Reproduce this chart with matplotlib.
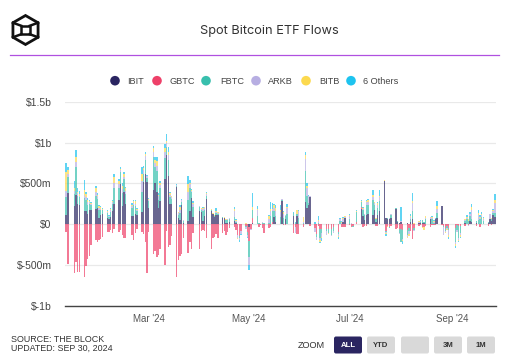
import numpy as np
import pandas as pd
import matplotlib
matplotlib.use("Agg")
import matplotlib.pyplot as plt
import matplotlib.dates as mdates
from matplotlib.patches import FancyBboxPatch, Circle, Polygon

# ---------------- data ($m, daily net flows) ----------------
holidays = ["2024-01-15", "2024-02-19", "2024-03-29", "2024-05-27",
            "2024-06-19", "2024-07-04", "2024-09-02"]
dates = [d for d in pd.bdate_range("2024-01-11", "2024-09-27")
         if d.strftime("%Y-%m-%d") not in holidays]

series_names = ["IBIT", "GBTC", "FBTC", "ARKB", "BITB", "6 Others"]

IBIT = [112, 386, 220, 360, 250, 240, 160, 160, 120, 170, 170, 190, 200, 80,
        110, 120, 80, 60, 90, 160, 250, 300, 490, 220, 400, 250, 100, 100, 130, 110, 150, 520, 612, 520,
        200, 420, 500, 400, 200, 290, 560, 849, 586, 250, 250, 451, 75, 49, 233, 18, 35, 161, 323, 95,
        165, 150, 42, 100, 308, 165, 129, 90, 110, 110, 73, 75, 19, 18, 30, 35, 20, 0, 0, 0, 0, 0,
        -37, 0, 12, 0, 0, 0, 0, 0, 0, 0, 0, 94, 30, 0, 290, 0, 70, 0, 102, 0, 100, 0,
        0, 275, 200, 230, 330, 6, 0, 0, 0, 0, 0, 0, 0, 0, 0, 0, 0, 30, 82,
        0, 0, 0, 0, 187, 100, 50, 110, 120, 117, 180, 30, 116, 160, 526, 73, 70, 70, 80, 190, 30, 20,
        26, 0, 20, 0, 25, 60, 0, 10, 20, 20, 10, 0, 60, 0, 0, 70, 75, 224, 0, 0, 0, 0,
        0, 0, 0, 0, 16, 0, 0, 40, 30, 15, 0, 0, 0, 0, 10, 60, 40, 110, 90]

GBTC = [-95, -484, -594, -459, -590, -582, -640, -515, -429, -394, -255, -192, -220, -187,
        -182, -160, -100, -94, -73, -102, -52, -95, -73, -130, -174, -170, -130, -190, -110, -55, -100, -125, -216, -599,
        -90, -368, -332, -400, -375, -300, -494, -79, -276, -257, -139, -642, -443, -386, -358, -170, -350, -212, -299, -105,
        -302, -81, -75, -80, -170, -303, -170, -160, -125, -166, -110, -79, -133, -90, -45, -35, -66, -130, -139, -83, -25, -94,
        -167, -54, 63, 4, -28, -11, -44, -104, -50, -30, 27, 0, 0, 0, 0, -10, -10, 0, -105, -30, -125, -124,
        -30, 0, 0, 0, -20, -40, -121, -15, -62, -53, -62, -62, -53, -35, -90, 0, -30, -28, -28,
        -10, -32, -27, 28, 25, -37, -20, -20, 0, 0, 0, -20, -20, 0, 0, -80, -20, -30, -20, -60, -50, -60,
        -60, -70, -69, -50, -80, -180, -50, -20, -10, -30, -30, -20, -30, -10, -10, -10, 0, -10, -20, -50, -20, -40,
        -50, -10, -23, -22, -20, 0, -10, 0, 0, -20, 0, -30, 0, 0, -15, 0, -10, 0, 0]

FBTC = [227, 195, 150, 345, 100, 90, 160, 140, 120, 80, 70, 150, 110, 100,
        60, 50, 60, 30, 60, 90, 200, 150, 150, 160, 150, 120, 100, 130, 90, 50, 245, 100, 180, 50,
        80, 400, 200, 250, 100, 150, 250, 100, 200, 80, 60, 20, 40, 90, 40, 20, 260, 280, 70, 120,
        44, 20, 120, 80, 40, 10, 0, 10, 30, 20, 10, 0, 35, 38, 37, 60, 3, -6, -23, -2, -6, -36,
        -191, 0, 103, 99, 10, 5, 16, 10, 20, 100, 131, 67, 70, 90, 10, 80, 30, 120, 30, 20, 20, 80,
        20, 378, 150, 30, 5, -10, -30, 20, -106, -50, -20, -50, -80, -50, -35, 40, 0, 0, 0,
        65, 0, -10, 117, 62, 70, 60, 130, 115, 180, 60, 30, 80, 130, 0, -10, 5, -10, 30, 10, 10, -50,
        -160, -105, -58, -30, 40, 100, -20, 10, 10, 30, 20, 60, 10, 60, 20, 0, 65, 0, -10, -30, -30, -30,
        -162, -60, -149, -85, 30, 60, 40, 60, 40, 25, 56, 60, 90, 40, 20, 0, 20, 30, 50]

ARKB = [65, 39, 40, 60, 30, 20, 40, 30, 30, 20, 10, 50, 30, 20,
        20, 10, 15, 10, 20, 20, 60, 40, 20, 50, 30, 40, 20, 30, 30, 20, 130, 40, 40, 15,
        20, 60, 50, 60, 40, 40, 70, 50, 60, 30, 20, 10, 20, 40, 20, 10, 100, 50, 20, 30,
        10, 20, 30, 20, 20, 5, 0, 0, 15, 10, 5, 5, 0, 5, 5, 70, 20, -30, -30, -31, -31, -31,
        -98, -10, 0, 75, 5, 0, 10, 0, 50, 60, 20, 40, 60, 60, 5, 50, 10, 80, 10, -80, 0, 80,
        10, 140, 100, 80, 5, -40, -39, 20, -30, -50, -48, 0, -10, -20, -20, 20, 20, 40, 10,
        40, 10, 0, 10, 0, 20, 10, 30, 40, 40, 20, 10, 40, 40, 0, -20, 5, 5, 10, 5, 5, -10,
        10, -20, -25, -40, 30, 100, -10, 10, 10, 0, 0, 20, 25, 20, 10, 0, 50, 0, -102, -20, -10, -60,
        -33, -20, -20, -30, 10, 20, -15, 20, 100, 0, 60, 20, 20, 20, 0, 70, 10, 20, 120]

BITB = [238, 40, 40, 60, 20, 20, 60, 40, 30, 15, 10, 60, 20, 20,
        20, 10, 10, 5, 15, 20, 70, 40, 20, 40, 30, 30, 20, 20, 30, 10, 90, 30, 30, 10,
        10, 50, 40, 60, 20, 30, 50, 20, 40, 20, 10, 5, 10, 30, 10, 5, 100, 20, 10, 20,
        5, 10, 10, 10, 15, 3, 5, 10, 10, 5, 0, 3, 5, 0, 5, 20, 10, -10, 0, 0, 10, 0,
        -7, 0, 33, 10, 0, 0, 0, 0, 30, 30, 10, 30, 40, 30, 0, 20, 5, 15, 0, 0, 50, 5,
        60, 60, 20, 10, 0, 0, 0, 10, -20, -20, 0, -10, 0, 0, -10, 10, 10, 10, 5,
        10, 5, 5, 10, 10, 10, 5, 20, 20, 20, 10, 5, 20, 20, 10, -15, -15, -5, 5, 0, 0, 0,
        5, -10, -10, -20, 10, 20, 10, 5, 5, -10, -40, 20, 0, 10, 10, 0, 30, 0, 0, -5, -5, -30,
        -20, 0, -10, -20, 5, 10, 20, 10, 40, 0, 20, 10, 10, 20, 0, 0, 5, 10, 40]

OTHERS = [108, 40, 80, 80, 40, 40, 120, 30, 20, 15, 10, 20, 20, 15,
          15, 5, 10, 5, 10, 10, 30, 30, 20, 30, 30, 20, 15, 20, 20, 10, 85, 20, 23, 5,
          10, 30, 30, 50, 20, 20, 55, 90, 60, 20, 10, 5, 5, 30, 5, 5, 100, 30, 5, 15,
          3, 5, 10, 5, 10, 2, 5, 5, 30, 5, 3, 2, 0, 0, 5, 30, 10, 0, -20, -10, 0, -10,
          -63, 0, 167, 30, 2, 0, 5, 10, 10, 80, 70, 20, 35, 55, 5, 10, 0, 30, 3, 5, 5, 10,
          5, 34, 30, 10, 0, 20, 0, 50, -8, -30, 0, 0, 0, 0, -20, 5, 10, 10, 5,
          5, 5, 0, 5, 10, 10, 5, 10, 15, 63, 5, 5, 14, 70, 4, -15, 0, 0, 5, 0, 0, 0,
          170, -32, -6, -8, 20, 100, 0, 5, 5, -10, 0, 5, 0, 10, 15, 5, 65, 0, 0, 0, -6, -15,
          -23, -10, -9, -12, 5, 27, 10, 15, 40, 0, 40, 20, 25, 15, 0, 0, 5, 15, 65]

colors = ["#2a2561", "#ee4069", "#38bfad", "#b7aee2", "#fcd94e", "#1dc3ef"]

series = [IBIT, GBTC, FBTC, ARKB, BITB, OTHERS]
for s in series:
    assert len(s) == len(dates), (len(s), len(dates))

# ---------------- figure ----------------
W, H = 517, 359
fig = plt.figure(figsize=(W / 100, H / 100), dpi=100)
fig.patch.set_facecolor("white")

ax_l, ax_r, ax_t, ax_b = 65, 496, 101.7, 306
ax = fig.add_axes([ax_l / W, (H - ax_b) / H, (ax_r - ax_l) / W, (ax_b - ax_t) / H])

x = mdates.date2num(pd.to_datetime(dates))
pos_bottom = np.zeros(len(x))
neg_bottom = np.zeros(len(x))
for vals, col in zip(series, colors):
    v = np.array(vals, dtype=float)
    p = np.clip(v, 0, None)
    n = np.clip(v, None, 0)
    ax.bar(x, p, bottom=pos_bottom, width=0.85, color=col, alpha=0.7,
           linewidth=0, zorder=3)
    ax.bar(x, n, bottom=neg_bottom, width=0.85, color=col, alpha=0.7,
           linewidth=0, zorder=3)
    pos_bottom += p
    neg_bottom += n

ax.set_ylim(-1000, 1500)
ax.set_xlim(x[0] - 0.7, x[-1] + 0.7)
ax.set_yticks([-1000, -500, 0, 500, 1000, 1500])
ax.set_yticklabels(["$-1b", "$-500m", "$0", "$500m", "$1b", "$1.5b"])
ax.grid(axis="y", color="#e9e9e9", linewidth=0.9, zorder=0)
ax.set_axisbelow(True)
for sp in ["top", "right", "left"]:
    ax.spines[sp].set_visible(False)
ax.spines["bottom"].set_color("#444444")
ax.spines["bottom"].set_linewidth(1.0)
ax.tick_params(axis="y", length=0, pad=9.5, labelsize=7.5, labelcolor="#444444")
ax.tick_params(axis="x", length=0, pad=6, labelsize=7, labelcolor="#555555")
for lab in ax.get_yticklabels() + ax.get_xticklabels():
    lab.set_fontfamily("Liberation Sans")

xt = pd.to_datetime(["2024-03-01", "2024-05-01", "2024-07-01", "2024-09-01"])
ax.set_xticks(mdates.date2num(xt))
ax.set_xticklabels(["Mar '24", "May '24", "Jul '24", "Sep '24"])

# ---------------- overlay (header, legend, footer) ----------------
ov = fig.add_axes([0, 0, 1, 1], zorder=-1)
ov.set_xlim(0, W)
ov.set_ylim(H, 0)
ov.axis("off")

# logo
cx, cy, r = 25.5, 30, 14.5
ang = np.deg2rad([90, 30, -30, -90, -150, 150])
hexv = np.c_[cx + r * np.cos(ang), cy - r * np.sin(ang)]
ov.add_patch(Polygon(hexv, closed=True, fill=False, edgecolor="#111111", linewidth=2.0))
s = 4.2
inner = np.array([[cx - s, cy - s], [cx + s, cy - s], [cx + s, cy + s], [cx - s, cy + s]])
ov.add_patch(Polygon(inner, closed=True, fill=False, edgecolor="#111111", linewidth=1.8))
for (ix, iy), hv in zip(inner, [hexv[5], hexv[1], hexv[2], hexv[4]]):
    ov.plot([ix, hv[0]], [iy, hv[1]], color="#111111", linewidth=1.8)

# title
ov.text(269, 31, "Spot Bitcoin ETF Flows", ha="center", va="center",
        fontsize=9.2, color="#333333", family="Inter")
ov.plot([10, 499], [55, 55], color="#b050e0", linewidth=0.9)

# legend
leg_circle_x = [115, 157, 206, 256, 306, 351]
leg_text_x = [127, 169, 220, 268, 319, 363]
for name, col, cxl, tx in zip(series_names, colors, leg_circle_x, leg_text_x):
    ov.add_patch(Circle((cxl, 80.7), 4.8, color=col, linewidth=0))
    ov.text(tx, 81, name, ha="left", va="center", fontsize=6.6,
            color="#444444", family="Liberation Sans")

# footer
ov.text(11, 339.5, "SOURCE: THE BLOCK", ha="left", va="center", fontsize=6.4,
        color="#333333", family="Liberation Sans")
ov.text(11, 348.5, "UPDATED: SEP 30, 2024", ha="left", va="center", fontsize=6.4,
        color="#333333", family="Liberation Sans")
ov.text(298, 345, "ZOOM", ha="left", va="center", fontsize=6.6,
        color="#333333", family="Liberation Sans")

buttons = [("ALL", 334, True), ("YTD", 367, False), ("", 401, False),
           ("3M", 434, False), ("1M", 467, False)]
for lab, bx, active in buttons:
    ov.add_patch(FancyBboxPatch((bx, 336.5), 28, 17, boxstyle="round,pad=0,rounding_size=2",
                                facecolor="#2a2561" if active else "#d9d9d9",
                                edgecolor="none"))
    if lab:
        ov.text(bx + 14, 345.3, lab, ha="center", va="center", fontsize=5.6,
                fontweight="bold", color="white" if active else "#333333",
                family="Liberation Sans")

fig.savefig("out.png", dpi=100, facecolor="white")
